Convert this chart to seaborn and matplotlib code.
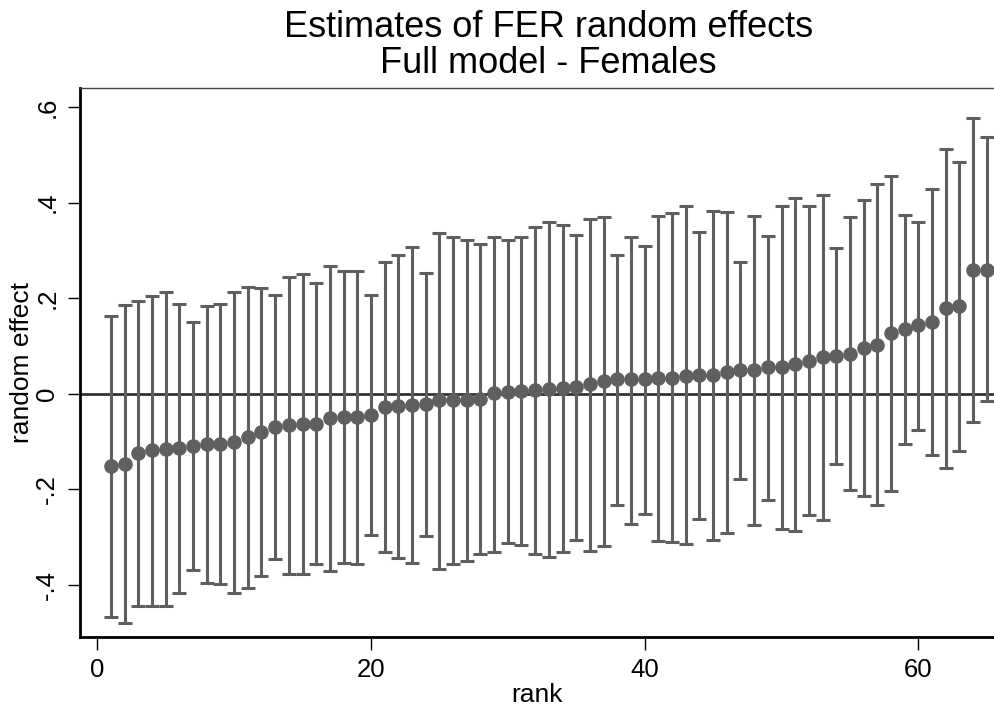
import numpy as np
import pandas as pd
import matplotlib
matplotlib.use('Agg')
import matplotlib.pyplot as plt
import seaborn as sns

# Estimates (rank 1..65)
rank = list(range(1, 66))
estimate = [-0.151, -0.146, -0.123, -0.117, -0.116, -0.113, -0.110, -0.106, -0.104, -0.101,
            -0.090, -0.080, -0.069, -0.066, -0.063, -0.063, -0.050, -0.048, -0.048, -0.044,
            -0.028, -0.025, -0.024, -0.022, -0.014, -0.014, -0.013, -0.010, 0.001, 0.004,
            0.006, 0.009, 0.010, 0.013, 0.015, 0.021, 0.027, 0.030, 0.030, 0.030,
            0.034, 0.034, 0.037, 0.039, 0.039, 0.046, 0.049, 0.049, 0.056, 0.056,
            0.063, 0.069, 0.077, 0.079, 0.084, 0.096, 0.103, 0.127, 0.135, 0.143,
            0.150, 0.179, 0.183, 0.260, 0.260]
upper = [0.163, 0.185, 0.195, 0.205, 0.213, 0.187, 0.150, 0.184, 0.187, 0.213,
         0.224, 0.222, 0.207, 0.245, 0.251, 0.232, 0.267, 0.256, 0.257, 0.207,
         0.276, 0.291, 0.307, 0.252, 0.336, 0.329, 0.322, 0.314, 0.329, 0.321,
         0.328, 0.349, 0.359, 0.353, 0.332, 0.366, 0.370, 0.290, 0.329, 0.310,
         0.373, 0.378, 0.392, 0.338, 0.383, 0.381, 0.275, 0.373, 0.331, 0.394,
         0.410, 0.393, 0.416, 0.306, 0.369, 0.405, 0.440, 0.455, 0.374, 0.360,
         0.428, 0.512, 0.484, 0.578, 0.537]
lower = [-0.468, -0.479, -0.444, -0.443, -0.444, -0.417, -0.369, -0.395, -0.397, -0.417,
         -0.406, -0.382, -0.345, -0.378, -0.377, -0.357, -0.371, -0.354, -0.356, -0.296,
         -0.331, -0.343, -0.354, -0.298, -0.366, -0.357, -0.350, -0.336, -0.330, -0.313,
         -0.317, -0.335, -0.341, -0.330, -0.306, -0.328, -0.319, -0.233, -0.272, -0.251,
         -0.307, -0.310, -0.315, -0.261, -0.306, -0.291, -0.179, -0.275, -0.223, -0.283,
         -0.287, -0.253, -0.265, -0.146, -0.201, -0.214, -0.233, -0.204, -0.104, -0.075,
         -0.127, -0.156, -0.119, -0.060, -0.016]

df = pd.DataFrame({'rank': rank, 'est': estimate, 'lo': lower, 'hi': upper})

sns.set_style("white")
plt.rcParams['font.family'] = ['Liberation Sans', 'DejaVu Sans']
plt.rcParams['text.color'] = 'black'
plt.rcParams['axes.labelcolor'] = 'black'
plt.rcParams['xtick.color'] = 'black'
plt.rcParams['ytick.color'] = 'black'

fig = plt.figure(figsize=(9.95, 7.15), dpi=100)
ax = fig.add_axes([0.0804, 0.109, 0.9196, 0.768])

grey = '#5f5f5f'

# Error bars (CI)
ax.errorbar(df['rank'], df['est'],
            yerr=[df['est'] - df['lo'], df['hi'] - df['est']],
            fmt='none', ecolor=grey, elinewidth=2.2, capsize=5, capthick=2.2, zorder=2)

ax.axhline(0, color='#333333', linewidth=2, zorder=1)

# Point estimates
sns.scatterplot(data=df, x='rank', y='est', color=grey, s=110, edgecolor=grey,
                linewidth=0, ax=ax, zorder=3)

ax.set_xlim(-1.26, 65.6)
ax.set_ylim(-0.509, 0.640)
ax.set_xticks([0, 20, 40, 60])
ax.set_yticks([-0.4, -0.2, 0, 0.2, 0.4, 0.6])
ax.set_yticklabels(['-.4', '-.2', '0', '.2', '.4', '.6'], rotation=90, va='center')
ax.tick_params(axis='both', direction='out', length=9, width=1,
               labelsize=18.5, left=True, bottom=True, pad=6)
ax.set_xlabel('rank', fontsize=19, labelpad=1)
ax.set_ylabel('random effect', fontsize=19, labelpad=1)

for side in ['left', 'bottom']:
    ax.spines[side].set_color('black')
    ax.spines[side].set_linewidth(2)
ax.spines['top'].set_color('#444444')
ax.spines['top'].set_linewidth(1)
ax.spines['right'].set_visible(False)

fig.text(0.551, 1 - 37 / 715, 'Estimates of FER random effects',
         ha='center', va='baseline', fontsize=26)
fig.text(0.551, 1 - 73 / 715, 'Full model - Females',
         ha='center', va='baseline', fontsize=26)

fig.savefig('out.png', dpi=100, facecolor='white')
